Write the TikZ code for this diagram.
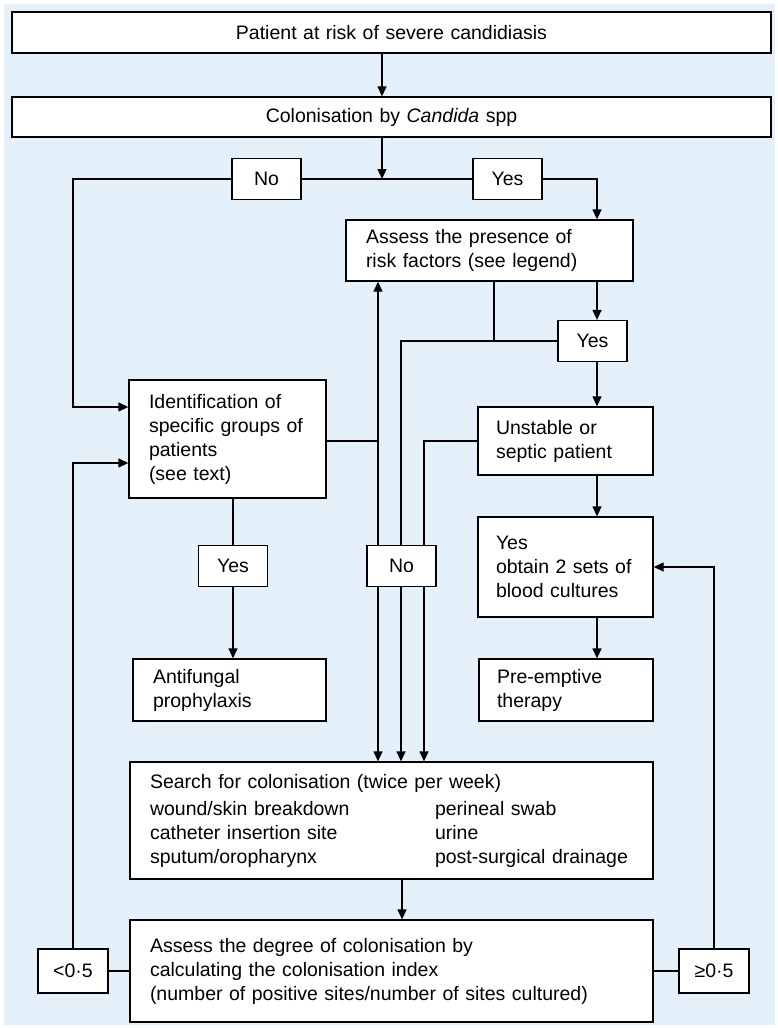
\documentclass[tikz,border=0pt]{standalone}
\usepackage{fontspec}
\setmainfont{Liberation Sans}
\usetikzlibrary{arrows.meta}
\definecolor{panelblue}{RGB}{228,240,250}

\begin{document}
\begin{tikzpicture}[x=1pt, y=-1pt,
		every node/.style={font=\fontsize{19.5}{24}\selectfont},
		box/.style={draw, fill=white, line width=1.3pt, inner xsep=20pt, inner ysep=0pt, align=left},
		tag/.style={draw, fill=white, line width=1.3pt, inner sep=0pt, minimum width=69pt, minimum height=41pt},
		link/.style={line width=1.3pt},
		arr/.style={link, -{Triangle[length=10pt, width=9pt]}}]
				\useasboundingbox (0,0) rectangle (778,1028);
				\fill[panelblue] (4,4) rectangle (775,1025);
				\node[box, align=center, text width=719pt, minimum height=41pt] (risk) at (391.5,32.5) {Patient at risk of severe candidiasis};
				\node[box, align=center, text width=719pt, minimum height=40pt] (colon) at (391.5,117) {Colonisation by \textit{Candida} spp};
				\node[tag] (no1) at (266.5,179) {No};
				\node[tag] (yes1) at (507.5,179) {Yes};
				\node[box, text width=247pt, minimum height=61pt] (assess) at (489.5,250.5) {Assess the presence of\\risk factors (see legend)};
				\node[tag] (yes2) at (592.5,341) {Yes};
				\node[box, text width=157pt, minimum height=118pt] (ident) at (227.5,439) {Identification of\\specific groups of\\patients\\(see text)};
				\node[box, inner xsep=18pt, text width=139pt, minimum height=68pt] (unstable) at (565.5,441) {Unstable or\\septic patient};
				\node[box, inner xsep=18pt, text width=139pt, minimum height=100pt] (blood) at (565.5,567) {Yes\\obtain 2 sets of\\blood cultures};
				\node[tag] (yes4) at (233,566) {Yes};
				\node[tag] (no2) at (401.5,566) {No};
				\node[box, text width=153pt, minimum height=62pt] (antifungal) at (229.5,690) {Antifungal\\prophylaxis};
				\node[box, inner xsep=18pt, text width=138pt, minimum height=62pt] (preempt) at (566,690) {Pre-emptive\\therapy};
				\node[box, text width=483pt, minimum height=117pt] (search) at (391.5,820.5) {Search for colonisation (twice per week)\\[3pt]
					\makebox[285pt][l]{wound/skin breakdown}perineal swab\\
					\makebox[285pt][l]{catheter insertion site}urine\\
					\makebox[285pt][l]{sputum/oropharynx}post-surgical drainage};
				\node[box, text width=483pt, minimum height=102pt] (degree) at (391.5,971) {Assess the degree of colonisation by\\calculating the colonisation index\\(number of positive sites/number of sites cultured)};
				\node[tag, minimum width=70pt, minimum height=44pt] (lt) at (73,971) {<0·5};
				\node[tag, minimum width=70pt, minimum height=44pt] (ge) at (714,971) {≥0·5};
				\coordinate (jn) at (382,179);
				\coordinate (lft) at (73,179);
				\coordinate (rgt) at (597,179);
				\coordinate (c1) at (378,441);
				\coordinate (c2) at (401,341);
				\coordinate (c3) at (424,441);
				\coordinate (c4) at (494,341);
				\coordinate (dn) at (402,900);
				\draw[arr] (risk.south -| jn) -- (colon.north -| jn);
				\draw[arr] (colon.south -| jn) -- (jn);
				\draw[link] (no1.east) -- (yes1.west);
				\draw[arr] (no1.west) -- (lft) |- ([yshift=32pt]ident.west);
				\draw[arr] (yes1.east) -| (assess.north -| rgt);
				\draw[arr] (assess.south -| rgt) -- (yes2.north -| rgt);
				\draw[arr] (yes2.south -| rgt) -- (unstable.north -| rgt);
				\draw[arr] (unstable.south -| rgt) -- (blood.north -| rgt);
				\draw[arr] (blood.south -| rgt) -- (preempt.north -| rgt);
				\draw[link] (assess.south -| c4) -- (c4);
				\draw[link] (yes2.west) -- (c2) -- (no2.north -| c2);
				\draw[link] (unstable.west) -- (c3) -- (no2.north -| c3);
				\draw[arr] (no2.north -| c1) -- (assess.south -| c1);
				\draw[link] (ident.east |- c1) -- (c1);
				\foreach \c in {c1,c2,c3}
					\draw[arr] (no2.south -| \c) -- (search.north -| \c);
				\draw[link] (ident.south -| yes4.north) -- (yes4.north);
				\draw[arr] (yes4.south) -- (antifungal.north -| yes4.south);
				\draw[arr] (search.south -| dn) -- (degree.north -| dn);
				\draw[link] (degree.west) -- (lt.east);
				\draw[arr] (lt.north) |- ([yshift=-24pt]ident.west);
				\draw[link] (degree.east) -- (ge.west);
				\draw[arr] (ge.north) |- (blood.east);
			\end{tikzpicture}
\end{document}
